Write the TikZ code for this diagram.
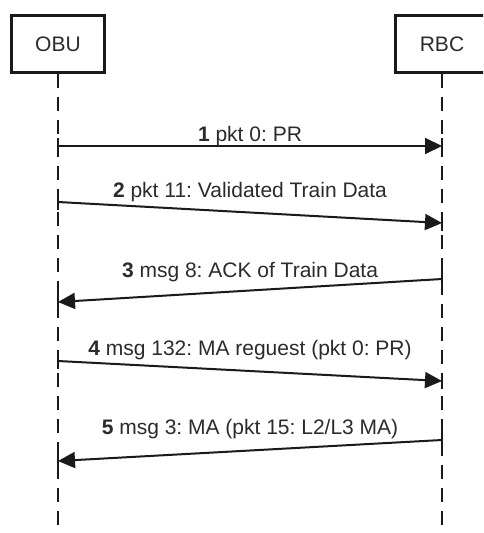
\documentclass[tikz,border=0pt]{standalone}
\usepackage{fontspec}
\setmainfont{Liberation Sans}
\usetikzlibrary{arrows.meta}
\definecolor{ink}{HTML}{1A1A1A}
\definecolor{txt}{HTML}{2B2B2B}
\frenchspacing
\tikzset{
  participant/.style={draw=ink, line width=3.5pt, rectangle, minimum width=93pt,
    minimum height=57pt, inner sep=0pt, text=txt,
    font=\fontsize{21}{25}\selectfont},
  lifeline/.style={draw=ink, line width=2pt, dash pattern=on 14pt off 9pt},
  tick/.style={draw=ink, line width=2pt},
  msg/.style={draw=ink, line width=2pt, -{Triangle[length=17pt, width=16pt]}},
  msglabel/.style={anchor=base, inner sep=0pt, text=txt,
    font=\fontsize{21}{25}\selectfont}
}
\begin{document}
\begin{tikzpicture}[x=1pt, y=-1pt]
  \useasboundingbox (0,0) rectangle (483,533);
  \clip (0,0) rectangle (483,533);

  % participants
  \node[participant] (obu) at (58,44) {OBU};
  \node[participant] (rbc) at (442,44) {RBC};

  % lifeline ends
  \coordinate (obuEnd) at (58,540);
  \coordinate (rbcEnd) at (442,540);
  \draw[lifeline] (obu.south) -- (obuEnd);
  \draw[lifeline] (rbc.south) -- (rbcEnd);

  % message end points on the lifelines
  \coordinate (o1) at (58,146);  \coordinate (r1) at (442,146);
  \coordinate (o2) at (58,202);  \coordinate (r2) at (442,223);
  \coordinate (r3) at (442,279); \coordinate (o3) at (58,302);
  \coordinate (o4) at (58,361);  \coordinate (r4) at (442,381);
  \coordinate (r5) at (442,440); \coordinate (o5) at (58,461);

  % solid marks where the messages meet the lifelines
  \foreach \p in {o1,r1,o2,r2,r3,o3,o4,r4,r5,o5}{
    \draw[tick] ([yshift=-8pt]\p) -- ([yshift=8pt]\p);
  }

  % messages
  \draw[msg] (o1) -- (r1);
  \draw[msg] (o2) -- (r2);
  \draw[msg] (r3) -- (o3);
  \draw[msg] (o4) -- (r4);
  \draw[msg] (r5) -- (o5);

  % message labels
  \node[msglabel] (l1) at (250,141) {\textbf{1} pkt 0: PR};
  \node[msglabel] (l2) at (250,197) {\textbf{2} pkt 11: Validated Train Data};
  \node[msglabel] (l3) at (250,277) {\textbf{3} msg 8: ACK of Train Data};
  \node[msglabel] (l4) at (250,355) {\textbf{4} msg 132: MA reguest (pkt 0: PR)};
  \node[msglabel] (l5) at (250,434) {\textbf{5} msg 3: MA (pkt 15: L2/L3 MA)};
\end{tikzpicture}
\end{document}
